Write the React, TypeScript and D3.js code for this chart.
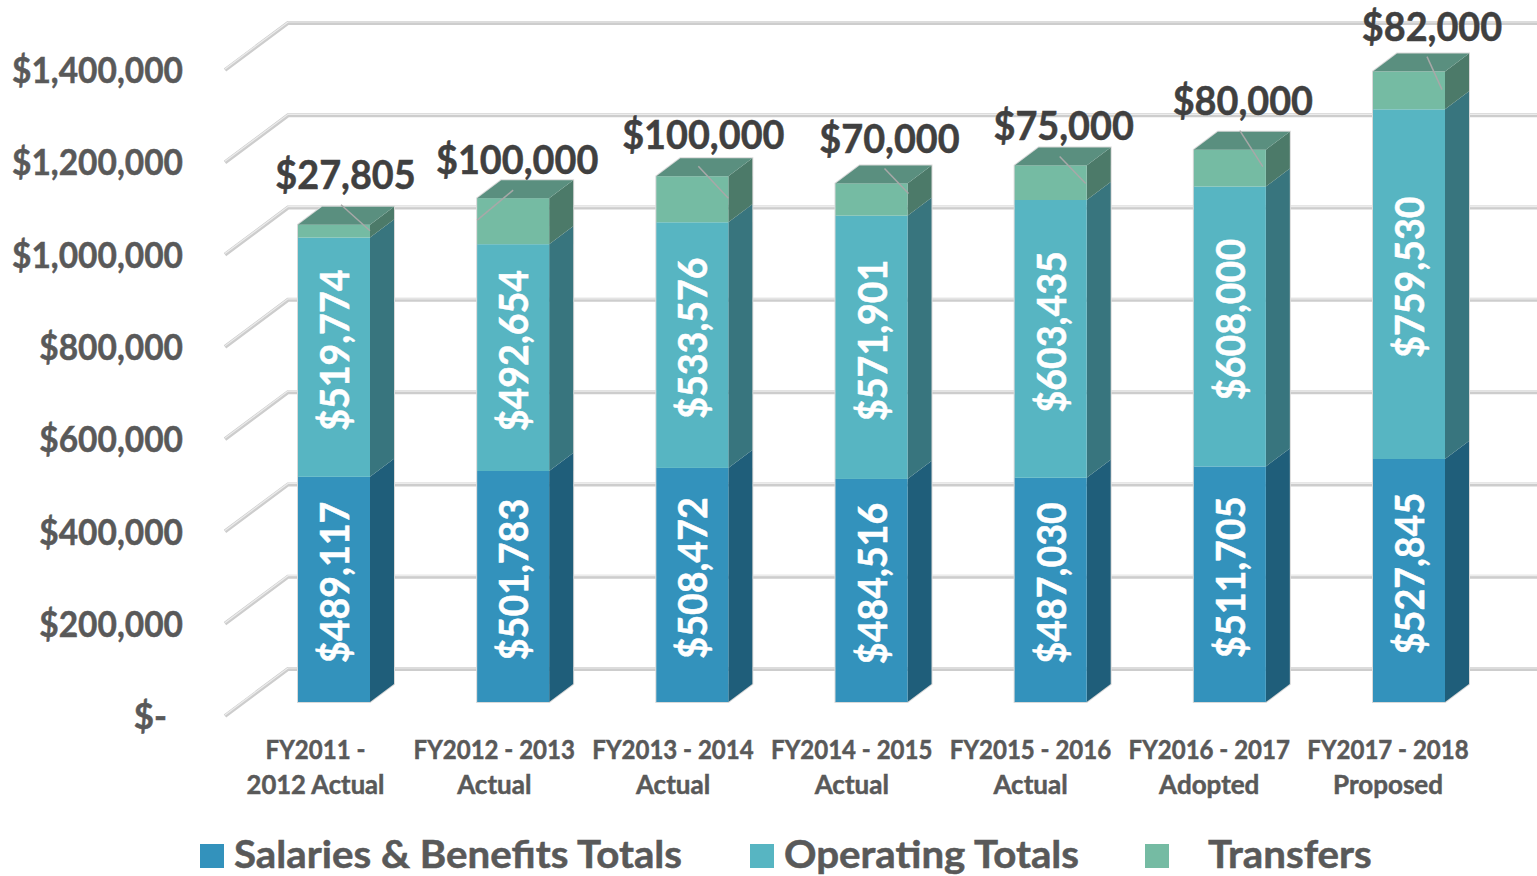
import React from "react";
import * as d3 from "d3";

const categories = [
  ["FY2011 -", "2012 Actual"],
  ["FY2012 - 2013", "Actual"],
  ["FY2013 - 2014", "Actual"],
  ["FY2014 - 2015", "Actual"],
  ["FY2015 - 2016", "Actual"],
  ["FY2016 - 2017", "Adopted"],
  ["FY2017 - 2018", "Proposed"],
];
const salaries = [489117, 501783, 508472, 484516, 487030, 511705, 527845];
const operating = [519774, 492654, 533576, 571901, 603435, 608000, 759530];
const transfers = [27805, 100000, 100000, 70000, 75000, 80000, 82000];
const ticks = [0, 200000, 400000, 600000, 800000, 1000000, 1200000, 1400000];
const seriesNames = ["Salaries & Benefits Totals", "Operating Totals", "Transfers"];

const faces = [
  { front: "#3392BC", side: "#1F5E7A" },
  { front: "#57B5C2", side: "#38757E" },
  { front: "#75BBA3", side: "#4C7A69" },
];
const topColor = "#5A8F7F";
const legendLayout = [
  { sx: 200, tx: 234 },
  { sx: 750, tx: 784 },
  { sx: 1145, tx: 1208 },
];
// transfer label placement relative to the bar's left edge / front top
const labelLayout = [
  { dx: 47.5, dy: -50, lx1: 43, ly1: -20, lx2: 72, ly2: 6 },
  { dx: 40, dy: -38, lx1: 36, ly1: -8, lx2: 0, ly2: 22 },
  { dx: 47, dy: -41, lx1: 42, ly1: -10, lx2: 72, ly2: 22 },
  { dx: 54, dy: -44, lx1: 49, ly1: -15, lx2: 73, ly2: 10 },
  { dx: 49, dy: -39, lx1: 45, ly1: -9, lx2: 71, ly2: 18 },
  { dx: 49, dy: -49, lx1: 46, ly1: -19, lx2: 69, ly2: 17 },
  { dx: 59, dy: -45, lx1: 54, ly1: -15, lx2: 69, ly2: 18 },
];

const W = 1537, H = 876;
const FONT = "Lato, Carlito, sans-serif";
const DX = 24, DY = 18;
const GDX = 63, GDY = 47;

const fmt = (v: number) => "$" + d3.format(",")(v);

function T({ x, y, sx = 1, rot = 0, size, fill, anchor = "middle", children }: any) {
  return (
    <text
      transform={`translate(${x},${y}) rotate(${rot}) scale(${sx},1)`}
      dy="0.35em"
      textAnchor={anchor}
      fontSize={size}
      fontWeight={700}
      fill={fill}
      stroke={fill}
      strokeWidth={0.5}
    >
      {children}
    </text>
  );
}

export default function App() {
  const y = d3.scaleLinear().domain([0, 1400000]).range([702, 57.5]);
  const gridY = d3.scaleLinear().domain([0, 1400000]).range([716, 70]);
  const idx = d3.range(categories.length);
  const bar = d3.scalePoint<number>().domain(idx).range([334, 1409]);
  const lab = d3.scalePoint<number>().domain(idx).range([315.5, 1388]);
  const bw = 72;

  const rows = categories.map((_, i) => ({ i, a: salaries[i], b: operating[i], c: transfers[i] }));
  const stacked = d3.stack<any>().keys(["a", "b", "c"])(rows);

  return (
    <svg width={W} height={H} style={{ position: "absolute", left: 0, top: 0, background: "#fff" }} fontFamily={FONT}>
      {ticks.map((t) => {
        const yf = gridY(t);
        const yb = yf - GDY;
        const p = `M225,${yf}L${225 + GDX},${yb}L1537,${yb}`;
        return (
          <g key={t}>
            <path d={p} fill="none" stroke="#cdcdcd" strokeWidth={4} />
            <path d={p} fill="none" stroke="#ececec" strokeWidth={1.2} transform="translate(0,-1)" />
            <T x={t === 0 ? 167 : 183} y={yf + 0.5} sx={t === 0 ? 0.97 : 0.93} size={36} fill="#595959" anchor="end">
              {t === 0 ? "$-" : fmt(t)}
            </T>
          </g>
        );
      })}

      {idx.map((i) => {
        const x0 = bar(i)! - bw / 2;
        const x1 = x0 + bw;
        const ty = y(stacked[2][i][1]);
        const L = labelLayout[i];
        return (
          <g key={i}>
            <path
              d={`M${x0},${y(0)}L${x0},${ty}L${x0 + DX},${ty - DY}L${x1 + DX},${ty - DY}L${x1 + DX},${y(0) - DY}L${x1},${y(0)}Z`}
              fill="none" stroke="#d9d9d9" strokeWidth={2}
            />
            {stacked.map((s, k) => {
              const y0 = y(s[i][0]);
              const y1 = y(s[i][1]);
              return (
                <g key={k}>
                  <path
                    d={`M${x1},${y0}L${x1 + DX},${y0 - DY}L${x1 + DX},${y1 - DY}L${x1},${y1}Z`}
                    fill={faces[k].side}
                  />
                  <rect x={x0} y={y1} width={bw} height={y0 - y1} fill={faces[k].front} />
                </g>
              );
            })}
            <path
              d={`M${x0},${ty}L${x0 + DX},${ty - DY}L${x1 + DX},${ty - DY}L${x1},${ty}Z`}
              fill={topColor}
            />
            {[0, 1].map((k) => {
              const mid = (y(stacked[k][i][0]) + y(stacked[k][i][1])) / 2 - 7;
              return (
                <T key={k} x={bar(i)! + 1} y={mid} rot={-90} sx={0.94} size={40} fill="#fff">
                  {fmt(k === 0 ? salaries[i] : operating[i])}
                </T>
              );
            })}
            <line x1={x0 + L.lx1} y1={ty + L.ly1} x2={x0 + L.lx2} y2={ty + L.ly2}
              stroke="#a8a8a8" strokeWidth={1.5} />
            <T x={x0 + L.dx} y={ty + L.dy} sx={0.945} size={40} fill="#404040">
              {fmt(transfers[i])}
            </T>
            {categories[i].map((line, j) => (
              <T key={j} x={lab(i)} y={750 + j * 34.5}
                sx={line.startsWith("FY") ? 0.925 : line.startsWith("2012") ? 0.985 : 1}
                size={26} fill="#595959">
                {line}
              </T>
            ))}
          </g>
        );
      })}

      {seriesNames.map((n, i) => (
        <g key={n}>
          <rect x={legendLayout[i].sx} y={844} width={24} height={24} fill={faces[i].front} />
          <T x={legendLayout[i].tx} y={855} sx={1.06} size={38} fill="#595959" anchor="start">{n}</T>
        </g>
      ))}
    </svg>
  );
}
